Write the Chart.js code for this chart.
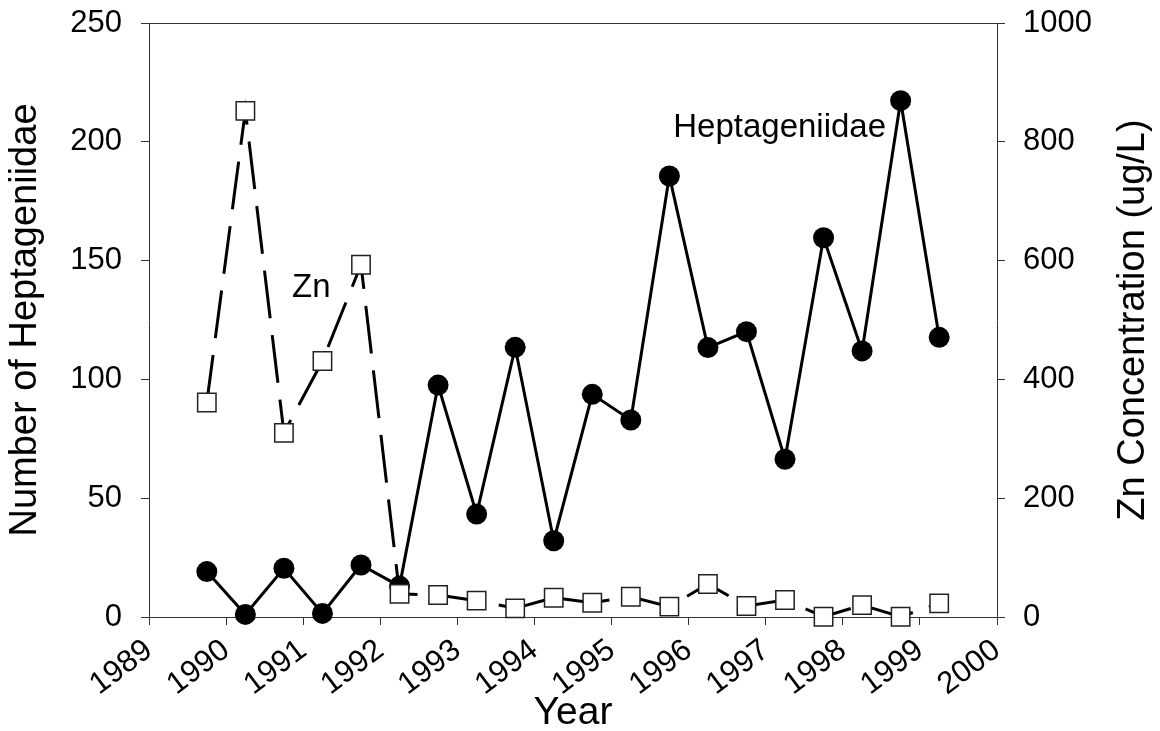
<!DOCTYPE html>
<html>
<head>
<meta charset="utf-8">
<script src="https://cdn.jsdelivr.net/npm/chart.js@4.4.1/dist/chart.umd.min.js"></script>
<style>
  html, body { margin: 0; padding: 0; background: #ffffff; }
  #wrap { width: 1160px; height: 731px; position: relative; }
</style>
</head>
<body>
<div id="wrap"><canvas id="c"></canvas></div>
<script>
// ---- data ----
const sampleDates = [1989.75, 1990.25, 1990.75, 1991.25, 1991.75, 1992.25, 1992.75, 1993.25, 1993.75, 1994.25,
                     1994.75, 1995.25, 1995.75, 1996.25, 1996.75, 1997.25, 1997.75, 1998.25, 1998.75, 1999.25];
const heptageniidae = [19.1, 1.1, 20.5, 1.5, 21.9, 13, 97.6, 43.3, 113.5, 32.1,
                       93.7, 82.9, 185.6, 113.4, 120.1, 66.4, 159.6, 112, 217.3, 117.7];
const znConcentration = [361, 852, 310, 431, 593, 39, 37, 27.5, 14.6, 32.5,
                         24, 34, 17.4, 55.6, 18.5, 28.6, 0.5, 20, 0.5, 23];
const yearTicks = [1989, 1990, 1991, 1992, 1993, 1994, 1995, 1996, 1997, 1998, 1999, 2000];
const leftTicks = [0, 50, 100, 150, 200, 250];
const rightTicks = [0, 200, 400, 600, 800, 1000];

const FONT = '"Liberation Sans", Arial, Helvetica, sans-serif';
const AXIS = '#333333';

const toPts = (xs, ys) => xs.map((x, i) => ({ x: x, y: ys[i] }));

const zeroPad = (s) => { s.paddingTop = 0; s.paddingBottom = 0; s.paddingLeft = 0; s.paddingRight = 0; };

const framePlugin = {
  id: 'frameAndLabels',
  afterDatasetsDraw(chart) {
    const { ctx, chartArea, scales } = chart;
    ctx.save();
    // top frame line
    ctx.strokeStyle = AXIS;
    ctx.lineWidth = 1;
    ctx.beginPath();
    ctx.moveTo(chartArea.left, chartArea.top + 0.5);
    ctx.lineTo(chartArea.right, chartArea.top + 0.5);
    ctx.stroke();
    // in-plot labels
    ctx.fillStyle = '#000';
    ctx.font = '33px ' + FONT;
    ctx.textAlign = 'left';
    ctx.textBaseline = 'alphabetic';
    ctx.fillText('Heptageniidae', scales.x.getPixelForValue(1995.8), scales.y.getPixelForValue(202));
    ctx.fillText('Zn', scales.x.getPixelForValue(1990.855), scales.y.getPixelForValue(134.7));
    // right axis title, reading bottom-to-top
    ctx.font = '38px ' + FONT;
    ctx.textAlign = 'center';
    ctx.textBaseline = 'middle';
    ctx.translate(1134, (chartArea.top + chartArea.bottom) / 2);
    ctx.rotate(-Math.PI / 2);
    ctx.fillText('Zn Concentration (ug/L)', 0, 0);
    ctx.restore();
  }
};

new Chart(document.getElementById('c'), {
  type: 'line',
  data: {
    datasets: [
      {
        label: 'Zn',
        data: toPts(sampleDates, znConcentration),
        yAxisID: 'y2',
        borderColor: '#000',
        borderWidth: 3,
        borderDash: [48, 17],
        pointStyle: 'rect',
        pointRadius: 13,
        pointBackgroundColor: '#ffffff',
        pointBorderColor: '#222222',
        pointBorderWidth: 1.5,
        tension: 0,
        clip: false
      },
      {
        label: 'Heptageniidae',
        data: toPts(sampleDates, heptageniidae),
        yAxisID: 'y',
        borderColor: '#000',
        borderWidth: 3,
        pointStyle: 'circle',
        pointRadius: 10.5,
        pointBackgroundColor: '#000',
        pointBorderColor: '#000',
        pointBorderWidth: 0,
        tension: 0,
        clip: false
      }
    ]
  },
  options: {
    responsive: true,
    maintainAspectRatio: false,
    animation: false,
    devicePixelRatio: 1,
    layout: { padding: { top: 23, left: 0, right: 0, bottom: 0 } },
    plugins: { legend: { display: false }, tooltip: { enabled: false } },
    scales: {
      x: {
        type: 'linear',
        position: 'bottom',
        min: 1989, max: 2000,
        afterBuildTicks: (s) => { s.ticks = yearTicks.map(v => ({ value: v })); },
        afterFit: (s) => { s.height = 114; zeroPad(s); },
        ticks: {
          autoSkip: false,
          minRotation: 37, maxRotation: 37,
          padding: 7,
          color: '#000',
          font: { family: FONT, size: 31 },
          callback: (v) => String(v)
        },
        grid: { drawOnChartArea: false, drawTicks: true, tickLength: 8, color: AXIS, lineWidth: 1 },
        border: { display: true, color: AXIS, width: 1 },
        title: { display: true, text: 'Year', color: '#000', font: { family: FONT, size: 39 }, padding: { top: 0, bottom: -6 } }
      },
      y: {
        type: 'linear',
        position: 'left',
        min: 0, max: 250,
        afterBuildTicks: (s) => { s.ticks = leftTicks.map(v => ({ value: v })); },
        afterFit: (s) => { s.width = 149; zeroPad(s); },
        ticks: { padding: 19, color: '#000', font: { family: FONT, size: 31 }, callback: (v) => String(v) },
        grid: { drawOnChartArea: false, drawTicks: true, tickLength: 8, color: AXIS, lineWidth: 1 },
        border: { display: true, color: AXIS, width: 1 },
        title: { display: true, text: 'Number of Heptageniidae', color: '#000', font: { family: FONT, size: 38 }, padding: { top: 3, bottom: 0 } }
      },
      y2: {
        type: 'linear',
        position: 'right',
        min: 0, max: 1000,
        afterBuildTicks: (s) => { s.ticks = rightTicks.map(v => ({ value: v })); },
        afterFit: (s) => { s.width = 163; zeroPad(s); },
        ticks: { padding: 18, color: '#000', font: { family: FONT, size: 31 }, callback: (v) => String(v) },
        grid: { drawOnChartArea: false, drawTicks: true, tickLength: 8, color: AXIS, lineWidth: 1 },
        border: { display: true, color: AXIS, width: 1 },
        title: { display: false }
      }
    }
  },
  plugins: [framePlugin]
});
</script>
</body>
</html>
